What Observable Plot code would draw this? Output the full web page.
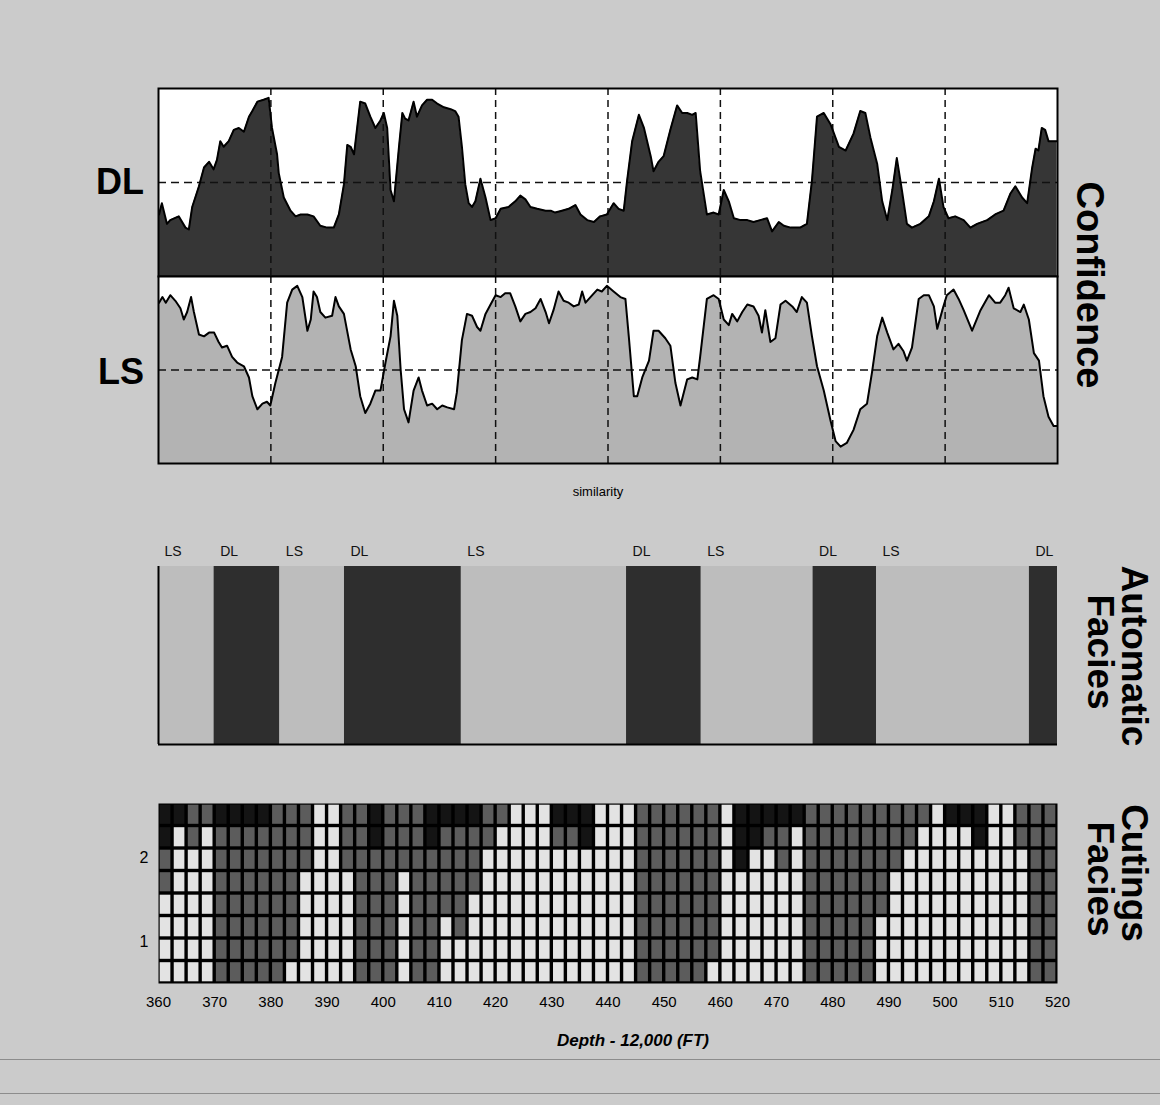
<!DOCTYPE html>
<html><head><meta charset="utf-8">
<script src="https://cdn.jsdelivr.net/npm/d3@7"></script>
<script src="https://cdn.jsdelivr.net/npm/@observablehq/plot@0.6"></script>
<style>
body{margin:0;background:#cbcbcb;}
#page{position:relative;width:1160px;height:1105px;background:#cbcbcb;overflow:hidden;font-family:"Liberation Sans",Arial,sans-serif;color:#000;}
.slot{position:absolute;left:0;}
.lbl{position:absolute;font-weight:bold;white-space:nowrap;transform:translate(-50%,-50%);line-height:1;}
.rot{position:absolute;font-weight:bold;white-space:nowrap;transform:translate(-50%,-50%) rotate(90deg);line-height:1;}
.scan{position:absolute;left:0;width:1160px;height:1px;background:#8c8c8c;}
</style></head><body><div id="page"></div>
<script>
// ---------- DATA ----------
const dlDepth = [360.1,360.6,361.5,362.1,363.6,364.8,365.4,366.0,367.2,368.1,
369.0,369.8,370.4,371.0,371.6,372.5,373.4,374.3,375.2,376.1,
376.7,377.6,378.7,379.6,380.2,381.1,381.4,382.3,383.5,384.4,
385.3,386.5,387.6,388.8,390.0,391.2,392.1,393.0,393.6,394.2,
394.8,395.9,396.8,397.7,398.6,399.5,400.1,400.7,401.3,401.9,
402.8,403.4,403.9,404.5,405.4,406.0,406.9,407.8,408.7,409.6,
410.8,412.0,412.8,413.4,414.0,414.6,415.2,415.8,416.4,417.3,
418.2,419.1,420.0,420.9,422.3,423.5,424.4,425.3,426.2,427.4,
428.9,429.8,430.6,431.8,433.0,434.2,435.1,436.3,437.5,438.6,
439.8,441.0,441.9,442.8,443.4,444.3,445.5,446.4,447.6,448.1,
449.0,449.9,451.1,452.3,453.2,454.1,455.0,455.6,456.4,457.6,
458.8,459.7,460.6,461.5,462.4,463.6,464.8,465.9,467.1,468.3,
469.2,470.4,471.3,472.5,474.2,475.4,476.3,477.2,478.4,479.6,
481.1,482.3,483.7,484.9,485.8,486.7,487.9,488.8,489.7,490.6,
491.4,492.3,493.2,494.1,495.6,497.1,498.0,498.9,499.7,500.6,
501.8,503.3,504.5,505.7,507.5,508.9,510.4,511.6,512.5,513.7,
514.6,515.5,516.1,516.6,517.2,517.8,518.4,519.9];
const dlValue = [0.33,0.39,0.28,0.30,0.32,0.26,0.25,0.37,0.48,0.58,
0.61,0.57,0.62,0.72,0.69,0.72,0.78,0.79,0.77,0.85,
0.88,0.93,0.94,0.95,0.79,0.65,0.55,0.42,0.35,0.32,
0.33,0.33,0.32,0.27,0.26,0.26,0.33,0.49,0.70,0.69,
0.65,0.93,0.92,0.85,0.79,0.83,0.87,0.79,0.46,0.40,
0.69,0.87,0.84,0.83,0.93,0.85,0.91,0.94,0.94,0.92,
0.90,0.89,0.88,0.85,0.69,0.49,0.39,0.37,0.40,0.52,
0.42,0.30,0.31,0.36,0.37,0.40,0.43,0.41,0.37,0.36,
0.35,0.35,0.34,0.35,0.36,0.38,0.33,0.30,0.29,0.32,
0.33,0.39,0.36,0.35,0.51,0.72,0.86,0.79,0.64,0.56,
0.61,0.64,0.78,0.91,0.87,0.87,0.86,0.87,0.56,0.33,
0.34,0.33,0.46,0.40,0.31,0.30,0.30,0.29,0.30,0.31,
0.24,0.29,0.27,0.26,0.26,0.28,0.51,0.85,0.87,0.81,
0.69,0.67,0.76,0.88,0.87,0.74,0.60,0.40,0.30,0.46,
0.63,0.46,0.28,0.26,0.28,0.32,0.40,0.52,0.37,0.31,
0.32,0.30,0.26,0.28,0.30,0.33,0.35,0.44,0.48,0.42,
0.39,0.58,0.68,0.67,0.79,0.78,0.72,0.72];

const lsDepth = [360.1,360.7,361.3,362.1,363.0,363.9,364.5,365.1,365.8,366.3,
367.2,368.1,369.0,369.9,370.7,371.3,372.2,373.1,374.0,375.2,
376.1,376.7,377.6,378.5,379.3,379.9,380.8,382.0,382.9,383.8,
384.7,385.6,386.5,387.1,387.6,388.2,388.8,389.7,390.9,391.5,
392.1,393.0,394.2,395.1,395.9,396.8,397.7,398.6,399.5,400.4,
401.3,401.9,402.5,403.1,403.7,404.5,405.4,406.3,406.9,407.8,
408.7,409.6,410.5,411.4,412.6,413.1,414.0,414.9,415.8,416.7,
417.3,418.2,419.1,420.0,420.9,421.7,422.6,423.5,424.4,425.3,
426.2,427.1,428.0,428.9,429.5,430.3,431.2,432.1,433.0,433.9,
434.8,435.4,436.0,437.2,438.1,438.9,439.8,
441.0,442.2,443.1,443.7,444.6,445.2,446.1,447.3,448.1,449.0,
450.2,451.1,452.0,452.9,454.1,455.0,455.9,456.4,457.6,458.8,
459.7,460.6,461.5,462.1,463.0,463.9,464.8,465.9,466.8,467.4,
468.0,468.9,469.8,470.7,471.6,472.8,473.6,474.5,475.4,476.3,
477.2,478.4,479.6,480.5,481.4,482.5,483.7,484.9,486.1,487.0,
487.9,488.8,489.7,490.8,491.7,492.6,493.2,494.1,494.7,495.3,
496.2,497.1,498.0,498.6,499.5,500.3,501.5,502.4,503.3,504.8,
506.3,507.8,508.9,509.8,510.7,511.3,512.2,513.4,514.0,514.9,
515.8,516.7,517.5,518.4,519.3,519.9];
const lsValue = [0.86,0.89,0.86,0.90,0.87,0.83,0.77,0.81,0.89,0.81,
0.69,0.68,0.70,0.70,0.65,0.62,0.63,0.57,0.54,0.52,
0.46,0.36,0.29,0.32,0.33,0.31,0.43,0.57,0.86,0.93,
0.95,0.89,0.71,0.77,0.92,0.89,0.81,0.78,0.79,0.89,
0.84,0.80,0.61,0.52,0.36,0.27,0.32,0.39,0.39,0.54,
0.68,0.87,0.79,0.50,0.29,0.22,0.39,0.46,0.39,0.31,
0.32,0.29,0.31,0.30,0.29,0.38,0.66,0.80,0.79,0.73,
0.71,0.80,0.85,0.90,0.89,0.91,0.91,0.84,0.76,0.80,
0.81,0.83,0.88,0.81,0.75,0.82,0.92,0.87,0.86,0.84,
0.85,0.92,0.86,0.90,0.93,0.92,0.95,
0.92,0.89,0.88,0.68,0.36,0.36,0.46,0.55,0.71,0.71,
0.67,0.63,0.43,0.31,0.45,0.46,0.45,0.57,0.88,0.90,
0.88,0.77,0.74,0.80,0.76,0.81,0.85,0.84,0.79,0.70,
0.82,0.65,0.67,0.85,0.87,0.84,0.81,0.89,0.86,0.68,
0.52,0.39,0.23,0.12,0.09,0.11,0.18,0.29,0.32,0.49,
0.68,0.78,0.70,0.61,0.64,0.60,0.55,0.62,0.75,0.88,
0.90,0.90,0.84,0.72,0.82,0.90,0.93,0.88,0.82,0.71,
0.82,0.90,0.86,0.86,0.90,0.94,0.83,0.81,0.85,0.77,
0.59,0.55,0.36,0.25,0.20,0.20];

const confThreshold = [0.5];
const gridDepths = [380,400,420,440,460,480,500];

const autoFacies = ["LS","DL","LS","DL","LS","DL","LS","DL","LS","DL"];
const autoStart  = [360,369.9,381.6,393.1,413.9,443.3,456.6,476.5,487.8,515.0];
const autoEnd    = [369.9,381.6,393.1,413.9,443.3,456.6,476.5,487.8,515.0,520];

// cuttings facies: K = black, G = dark grey, W = light; top row first; one column per 2.5 ft
const cutDepth = [360,362.5,365,367.5,370,372.5,375,377.5,380,382.5,385,387.5,390,392.5,395,397.5,
400,402.5,405,407.5,410,412.5,415,417.5,420,422.5,425,427.5,430,432.5,435,437.5,
440,442.5,445,447.5,450,452.5,455,457.5,460,462.5,465,467.5,470,472.5,475,477.5,
480,482.5,485,487.5,490,492.5,495,497.5,500,502.5,505,507.5,510,512.5,515,517.5];
const cutRows = [
 "KKGGKKKKGGGWWGGKGGGKKKKGGWWWKKKW" + "WWGGGGGGWKKKKKGGGGGGGGGWKKKWWGGG",
 "KWGWGGGGGGGWWGGKGGGKGGGGWWWWGGKW" + "WWGGGGGGWKKGGWGGGGGGGGWWWWKWWGGG",
 "GWWWGGGGGGGWWGGGGGGGGGGWWWWWWWWW" + "WWGGGGGGWKWWGWGGGGGGGWWWWWWWWWGG",
 "GWWWGGGGGGWWWWGGGWGGGGGWWWWWWWWW" + "WWGGGGGGWWWWWWGGGGGGWWWWWWWWWWGG",
 "WWWWGGGGGGWWWWGGGWGGGGWWWWWWWWWW" + "WWGGGGGGWWWWWWGGGGGGWWWWWWWWWWGG",
 "WWWWGGGGGGWWWWGGGWGGWGWWWWWWWWWW" + "WWGGGGGGWWWWWWGGGGGWWWWWWWWWWWGG",
 "WWWWGGGGGGWWWWGGGWGGWWWWWWWWWWWW" + "WWGGGGGGWWWWWWGGGGGWWWWWWWWWWWGG",
 "WWWWGGGGGWWWWWGGGWGGWWWWWWWWWWWW" + "WWGGGGGWWWWWWWGGGGGWWWWWWWWWWWGG"
];
const cutStep = 2.5;
const cutTicks = [1, 2];
const cutYDomain = [0.5, 2.643];
const depthTicks = [360,370,380,390,400,410,420,430,440,450,460,470,480,490,500,510,520];

// ---------- BUILD ----------
const dl = dlDepth.map((d,i)=>({depth:d, value:dlValue[i]}));
const ls = lsDepth.map((d,i)=>({depth:d, value:lsValue[i]}));
const auto = autoFacies.map((f,i)=>({facies:f, start:autoStart[i], end:autoEnd[i]}));
const rowH = (cutYDomain[1]-cutYDomain[0]) / cutRows.length;
const cells = [];
cutRows.forEach((row, r) => {
  const top = cutYDomain[1] - r*rowH;
  row.split("").forEach((c, i) => {
    cells.push({x1: cutDepth[i], x2: cutDepth[i] + cutStep, y1: top - rowH, y2: top, code: c});
  });
});

const page = document.getElementById("page");
function place(node, top){ const d=document.createElement("div"); d.className="slot"; d.style.top=top+"px"; d.appendChild(node); page.appendChild(d); }
function label(text, x, y, size, cls, extra){ const d=document.createElement("div"); d.className=cls; d.textContent=text; d.style.left=x+"px"; d.style.top=y+"px"; d.style.fontSize=size+"px"; if(extra) Object.assign(d.style, extra); page.appendChild(d); }

const common = {width:1160, marginLeft:158, marginRight:103,
  x:{domain:[360,520], axis:null},
  style:{background:"transparent", overflow:"visible", fontFamily:"'Liberation Sans', Arial, sans-serif", color:"#000"}};

// DL confidence
place(Plot.plot({...common, height:200, marginTop:8, marginBottom:4,
  y:{domain:[0,1], axis:null},
  marks:[
    Plot.frame({fill:"white"}),
    Plot.areaY(dl,{x:"depth", y:"value", fill:"#363636"}),
    Plot.ruleX(gridDepths,{stroke:"#111", strokeWidth:1.5, strokeDasharray:"7,5"}),
    Plot.ruleY(confThreshold,{stroke:"#111", strokeWidth:1.5, strokeDasharray:"8,5"}),
    Plot.lineY(dl,{x:"depth", y:"value", stroke:"#000", strokeWidth:2}),
    Plot.frame({stroke:"#000", strokeWidth:2})
  ]}), 80);

// LS confidence
place(Plot.plot({...common, height:195, marginTop:4, marginBottom:4,
  y:{domain:[0,1], axis:null},
  marks:[
    Plot.frame({fill:"white"}),
    Plot.areaY(ls,{x:"depth", y:"value", fill:"#b3b3b3"}),
    Plot.ruleX(gridDepths,{stroke:"#111", strokeWidth:1.5, strokeDasharray:"7,5"}),
    Plot.ruleY(confThreshold,{stroke:"#111", strokeWidth:1.5, strokeDasharray:"8,5"}),
    Plot.lineY(ls,{x:"depth", y:"value", stroke:"#000", strokeWidth:2}),
    Plot.frame({stroke:"#000", strokeWidth:2})
  ]}), 272);

// Automatic facies
place(Plot.plot({...common, height:218, marginTop:36, marginBottom:4,
  y:{domain:[0,1], axis:null},
  color:{domain:["LS","DL"], range:["#bdbdbd","#2e2e2e"]},
  marks:[
    Plot.rect(auto,{x1:"start", x2:"end", y1:0, y2:1, fill:"facies"}),
    Plot.ruleX([360],{stroke:"#000", strokeWidth:2}),
    Plot.ruleY([0],{stroke:"#000", strokeWidth:2}),
    Plot.text(auto,{x:"start", y:1, text:"facies", textAnchor:"start", lineAnchor:"bottom", dx:6, dy:-11, fontSize:14, fill:"#111"})
  ]}), 530);

// Cuttings facies
place(Plot.plot({...common, height:222, marginTop:8, marginBottom:34,
  x:{domain:[360,520]},
  y:{domain:cutYDomain},
  color:{domain:["K","G","W"], range:["#141414","#5c5c5c","#e3e3e3"]},
  marks:[
    Plot.frame({fill:"#000"}),
    Plot.rect(cells,{x1:"x1", x2:"x2", y1:"y1", y2:"y2", fill:"code", inset:1.7}),
    Plot.axisX(depthTicks,{tickSize:0, tickPadding:13, fontSize:15, label:null, tickFormat:d=>String(d)}),
    Plot.axisY(cutTicks,{tickSize:0, tickPadding:10, fontSize:16, label:null, tickFormat:d=>String(d)})
  ]}), 795);

// text labels
label("DL", 120, 182, 36, "lbl");
label("LS", 121, 372, 36, "lbl");
label("Confidence", 1090, 285, 38, "rot");
label("similarity", 598, 491, 13, "lbl", {fontWeight:"normal"});
label("Automatic", 1134, 656, 37, "rot");
label("Facies", 1100, 652, 37, "rot");
label("Cutings", 1134, 873, 37, "rot");
label("Facies", 1100, 879, 37, "rot");
label("Depth - 12,000 (FT)", 633, 1040, 17, "lbl", {fontStyle:"italic"});
[1059, 1093].forEach(y => { const s=document.createElement("div"); s.className="scan"; s.style.top=y+"px"; page.appendChild(s); });
</script>
</body></html>
